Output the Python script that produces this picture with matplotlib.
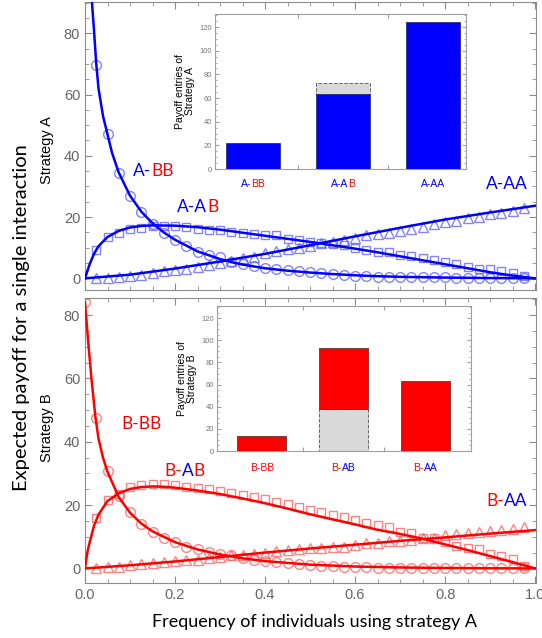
import numpy as np
import matplotlib.pyplot as plt
from matplotlib.ticker import MultipleLocator

BLUE = '#0000ff'
RED = '#ff0000'
W, H = 542, 638

# marker positions (simulation points)
xm = np.arange(1, 40) * 0.025

# ---- Strategy A (top panel) ----
a_bb_line_x = [0.012, 0.016, 0.02, 0.025, 0.03, 0.04, 0.05, 0.06, 0.075, 0.1, 0.125, 0.15, 0.175, 0.2,
               0.25, 0.3, 0.325, 0.35, 0.4, 0.45, 0.5, 0.55, 0.6, 0.65, 0.7, 0.8, 0.9, 1.0]
a_bb_line_y = [96, 89, 81, 70, 62, 53, 47, 41, 34.5, 27, 21.8, 18.0, 15.0, 12.6,
               8.8, 6.3, 5.3, 4.5, 3.3, 2.5, 1.9, 1.4, 1.0, 0.7, 0.5, 0.25, 0.1, 0]
a_bb_pts = [69.5, 47, 34.5, 26.8, 21.6, 17.8, 14.9, 12.4, 10.5, 8.7, 7.5, 6.9, 5.4, 4.6, 3.9, 3.4,
            3.0, 2.7, 2.3, 2.1, 1.8, 1.4, 1.1, 0.9, 0.8, 0.6, 0.5, 0.4, 0.4, 0.3, 0.3, 0.3, 0.2,
            0.2, 0.2, 0.1, 0.1, 0.1, 0.1]

a_ab_line_x = [0, 0.01, 0.02, 0.03, 0.05, 0.075, 0.1, 0.125, 0.15, 0.2, 0.25, 0.3, 0.35, 0.4, 0.45,
               0.5, 0.55, 0.6, 0.65, 0.7, 0.75, 0.8, 0.85, 0.9, 0.95, 1.0]
a_ab_line_y = [0, 4.5, 8, 10.5, 13.5, 15.5, 16.6, 17.1, 17.3, 17.2, 16.7, 15.9, 14.9, 13.9, 12.9,
               11.9, 10.8, 9.7, 8.5, 7.2, 5.9, 4.6, 3.3, 2.0, 0.9, 0]
a_ab_pts = [9.2, 13.4, 14.9, 16.2, 16.4, 17.0, 17.0, 17.0, 16.8, 16.2, 15.9, 15.7, 15.2, 14.9, 14.5,
            14.2, 14.0, 12.9, 12.6, 12.0, 11.4, 11.3, 10.9, 9.8, 9.3, 8.7, 8.5, 7.6, 7.3, 6.5, 6.0,
            5.4, 4.6, 3.8, 3.2, 3.0, 2.4, 1.6, 0.7]

a_aa_line_x = [0, 0.1, 0.2, 0.3, 0.4, 0.5, 0.6, 0.7, 0.8, 0.9, 1.0]
a_aa_line_y = [0, 1.2, 3.2, 5.5, 8.0, 10.8, 13.7, 16.5, 19.2, 21.5, 23.7]
a_aa_pts = [0.0, 0.1, 0.4, 0.8, 1.2, 1.6, 2.3, 2.6, 3.0, 3.7, 4.4, 4.9, 5.6, 6.5, 7.1, 8.2, 8.9,
            9.5, 9.8, 10.6, 11.4, 12.0, 12.5, 13.3, 14.1, 14.5, 14.7, 15.5, 16.1, 16.9, 17.6, 18.3,
            18.8, 19.6, 20.1, 20.9, 21.4, 22.0, 22.9]

# ---- Strategy B (bottom panel) ----
b_bb_line_x = [0, 0.004, 0.008, 0.015, 0.023, 0.03, 0.04, 0.05, 0.075, 0.1, 0.125, 0.15, 0.2, 0.25,
               0.3, 0.35, 0.4, 0.5, 0.6, 0.7, 0.8, 0.9, 1.0]
b_bb_line_y = [84, 77, 70, 59, 48, 41, 35, 30.5, 22.5, 17.6, 14.2, 11.7, 8.3, 6.0,
               4.4, 3.2, 2.3, 1.2, 0.6, 0.3, 0.15, 0.05, 0]
b_bb_pts0 = 84
b_bb_pts = [47.4, 30.8, 22.8, 17.7, 13.9, 11.4, 9.7, 8.4, 6.8, 6.0, 5.2, 4.5, 4.2, 3.3, 2.8, 2.3,
            1.9, 1.6, 1.3, 1.1, 0.9, 0.7, 0.5, 0.4, 0.3, 0.2, 0.2, 0.1, 0.1, 0.1, 0.1, 0.1, 0.1,
            0.0, 0.0, 0.0, 0.0, 0.0, 0.0]

b_ab_line_x = [0, 0.005, 0.01, 0.02, 0.03, 0.05, 0.075, 0.1, 0.125, 0.15, 0.175, 0.2, 0.25, 0.3,
               0.35, 0.4, 0.45, 0.5, 0.55, 0.6, 0.65, 0.7, 0.75, 0.8, 0.85, 0.9, 0.95, 1.0]
b_ab_line_y = [0, 5, 8, 13.5, 17, 21.3, 23.7, 25.1, 25.7, 25.9, 25.8, 25.5, 24.6, 23.5,
               22.1, 20.6, 18.9, 17.1, 15.5, 13.9, 12.2, 10.9, 9.4, 7.6, 5.8, 3.9, 2.0, 0]
b_ab_pts = [15.8, 21.6, 23.4, 25.6, 26.3, 26.8, 26.8, 26.3, 25.8, 25.5, 25.1, 24.6, 23.9, 23.1,
            22.6, 22.0, 21.0, 20.2, 19.4, 18.6, 17.9, 16.8, 16.3, 15.2, 14.4, 13.7, 13.1, 11.6,
            11.1, 9.7, 9.5, 8.4, 7.0, 6.3, 6.0, 4.7, 4.0, 2.9, 0.9]

b_aa_line_x = [0, 0.1, 0.2, 0.3, 0.4, 0.5, 0.6, 0.7, 0.8, 0.9, 1.0]
b_aa_line_y = [0, 1.0, 2.2, 3.6, 5.0, 6.3, 7.5, 8.7, 9.8, 11.0, 12.1]
b_aa_pts = [0.0, 0.3, 0.5, 1.0, 1.4, 1.6, 2.1, 2.4, 2.6, 2.8, 3.2, 3.7, 4.2, 4.2, 4.5, 5.0, 5.5,
            5.8, 6.0, 6.3, 6.5, 6.8, 6.8, 7.4, 7.9, 8.1, 8.6, 8.6, 8.9, 9.5, 9.7, 10.5, 11.0, 11.2,
            11.6, 11.9, 12.1, 12.4, 13.0]

# ---- inset bar charts ----
ins_a_cats = [[('A-', BLUE), ('BB', RED)], [('A-A', BLUE), ('B', RED)], [('A-AA', BLUE)]]
ins_a_solid = [22, 63, 124]
ins_a_extra = [0, 10, 0]
ins_b_cats = [[('B-BB', RED)], [('B-', RED), ('AB', BLUE)], [('B-', RED), ('AA', BLUE)]]
ins_b_grey = [0, 38, 0]
ins_b_solid = [14, 55, 63]


fig = plt.figure(figsize=(W / 100, H / 100), dpi=100)
renderer = fig.canvas.get_renderer()


def colored(parts, px, py, size, family='Lato', center=False):
    # px, py: pixel position from the top-left corner of the figure.
    # each piece is right-aligned where it ends inside the whole string
    kw = dict(fontsize=size, family=family, va='center')
    probe = fig.text(0, 0, ''.join(s for s, _ in parts), **kw)
    total = probe.get_window_extent(renderer).width
    probe.remove()
    x0 = px - total / 2 if center else px
    y = 1 - py / H
    fig.text(x0 / W, y, parts[0][0], color=parts[0][1], ha='left', **kw)
    prefix = parts[0][0]
    for s, c in parts[1:]:
        prefix += s
        p = fig.text(0, 0, prefix, **kw)
        wp = p.get_window_extent(renderer).width
        p.remove()
        fig.text((x0 + wp) / W, y, s, color=c, ha='right', **kw)


def style_main(ax):
    for s in ax.spines.values():
        s.set_color('#8c8c8c')
    ax.tick_params(which='both', direction='in', top=True, right=True, colors='#8c8c8c',
                   labelcolor='#666666', labelsize=10.5)
    ax.tick_params(which='major', length=5)
    ax.tick_params(which='minor', length=3)
    ax.xaxis.set_major_locator(MultipleLocator(0.2))
    ax.xaxis.set_minor_locator(MultipleLocator(0.05))
    ax.yaxis.set_major_locator(MultipleLocator(20))
    ax.yaxis.set_minor_locator(MultipleLocator(5))
    ax.set_xlim(0, 1.002)
    for lab in ax.get_xticklabels() + ax.get_yticklabels():
        lab.set_family('Liberation Sans')


def curves(ax, color, mcolor, lines, pts):
    for (lx, ly), (px, py, m, ms) in zip(lines, pts):
        ax.plot(lx, ly, color=color, lw=1.8, zorder=3)
        ax.plot(px, py, ls='none', marker=m, ms=ms, mfc='none', mec=mcolor, mew=1.0,
                alpha=0.75, zorder=2)


def style_inset(ax):
    for s in ax.spines.values():
        s.set_color('#a0a0a0')
    ax.tick_params(which='both', direction='in', top=True, right=True, colors='#a0a0a0',
                   labelcolor='#777777', labelsize=5.5, pad=2)
    ax.tick_params(which='major', length=3)
    ax.tick_params(which='minor', length=1.5)
    ax.yaxis.set_major_locator(MultipleLocator(20))
    ax.yaxis.set_minor_locator(MultipleLocator(5))
    ax.set_xticks([0.5, 1.5])
    ax.set_xticklabels([])
    ax.set_ylim(0, 131)
    for lab in ax.get_yticklabels():
        lab.set_family('Liberation Sans')


ax1 = fig.add_axes([85 / W, 1 - 290 / H, 451 / W, 288 / H])
ax2 = fig.add_axes([85 / W, 1 - 583 / H, 451 / W, 285 / H])

curves(ax1, BLUE, '#5a5aff',
       [(a_bb_line_x, a_bb_line_y), (a_ab_line_x, a_ab_line_y), (a_aa_line_x, a_aa_line_y)],
       [(xm, a_bb_pts, 'o', 7), (xm, a_ab_pts, 's', 5.5), (xm, a_aa_pts, '^', 6.5)])
curves(ax2, RED, '#ff5a5a',
       [(b_bb_line_x, b_bb_line_y), (b_ab_line_x, b_ab_line_y), (b_aa_line_x, b_aa_line_y)],
       [(np.r_[0, xm], [b_bb_pts0] + b_bb_pts, 'o', 7), (xm, b_ab_pts, 's', 5.5),
        (xm, b_aa_pts, '^', 6.5)])

ax1.set_ylim(-3.8, 90.2)
ax2.set_ylim(-4.6, 85.4)
style_main(ax1)
style_main(ax2)
ax1.set_xticklabels([])

# insets
in1 = fig.add_axes([215 / W, 1 - 169 / H, 251 / W, 155 / H])
in2 = fig.add_axes([217 / W, 1 - 451 / H, 254 / W, 145 / H])
pos = np.arange(3)

in1.bar(pos, ins_a_solid, width=0.6, color=BLUE, edgecolor='#333366', lw=0.6, zorder=3)
for i, e in enumerate(ins_a_extra):
    if e > 0:
        in1.bar(pos[i], e, bottom=ins_a_solid[i], width=0.6, color='#d9d9d9',
                edgecolor='#666666', lw=0.7, ls='--', zorder=2)
in2.bar(pos, ins_b_solid, bottom=ins_b_grey, width=0.6, color=RED, edgecolor='#663333',
        lw=0.6, zorder=3)
for i, g in enumerate(ins_b_grey):
    if g > 0:
        in2.bar(pos[i], g, width=0.6, color='#d9d9d9', edgecolor='#666666', lw=0.7,
                ls='--', zorder=2)

in1.set_xlim(-0.42, 2.37)
in2.set_xlim(-0.55, 2.56)
style_inset(in1)
style_inset(in2)
in1.set_ylabel('Payoff entries of\nStrategy A', fontsize=7.5, family='Liberation Sans',
               labelpad=3, linespacing=1.0)
in2.set_ylabel('Payoff entries of\nStrategy B', fontsize=7.5, family='Liberation Sans',
               labelpad=3, linespacing=1.0)

# big in-plot labels (pixel positions of their left edge / vertical centre)
big = [
    ([('A-', BLUE), ('BB', RED)], 133, 171),
    ([('A-A', BLUE), ('B', RED)], 177, 207),
    ([('A-AA', BLUE)], 486, 184),
    ([('B-BB', RED)], 121, 424),
    ([('B-', RED), ('A', BLUE), ('B', RED)], 164, 471),
    ([('B-', RED), ('AA', BLUE)], 486, 501),
]
for parts, px, py in big:
    colored(parts, px, py, 12.5)

# category labels under the inset bars
for ax, cats, py in ((in1, ins_a_cats, 184), (in2, ins_b_cats, 468)):
    for i, parts in enumerate(cats):
        px = ax.transData.transform((pos[i], 0))[0]
        colored(parts, px, py, 7.5, 'Liberation Sans', center=True)

# outer labels
fig.text(22 / W, 1 - 318 / H, 'Expected payoff for a single interaction', rotation=90,
         fontsize=14.5, family='Lato', ha='center', va='center')
fig.text(47 / W, 1 - 150 / H, 'Strategy A', rotation=90, fontsize=10.5,
         family='Liberation Sans', ha='center', va='center')
fig.text(47 / W, 1 - 428 / H, 'Strategy B', rotation=90, fontsize=10.5,
         family='Liberation Sans', ha='center', va='center')
fig.text(315 / W, 1 - 622 / H, 'Frequency of individuals using strategy A', fontsize=13,
         family='Lato', ha='center', va='center')

fig.savefig('out.png', dpi=100)
